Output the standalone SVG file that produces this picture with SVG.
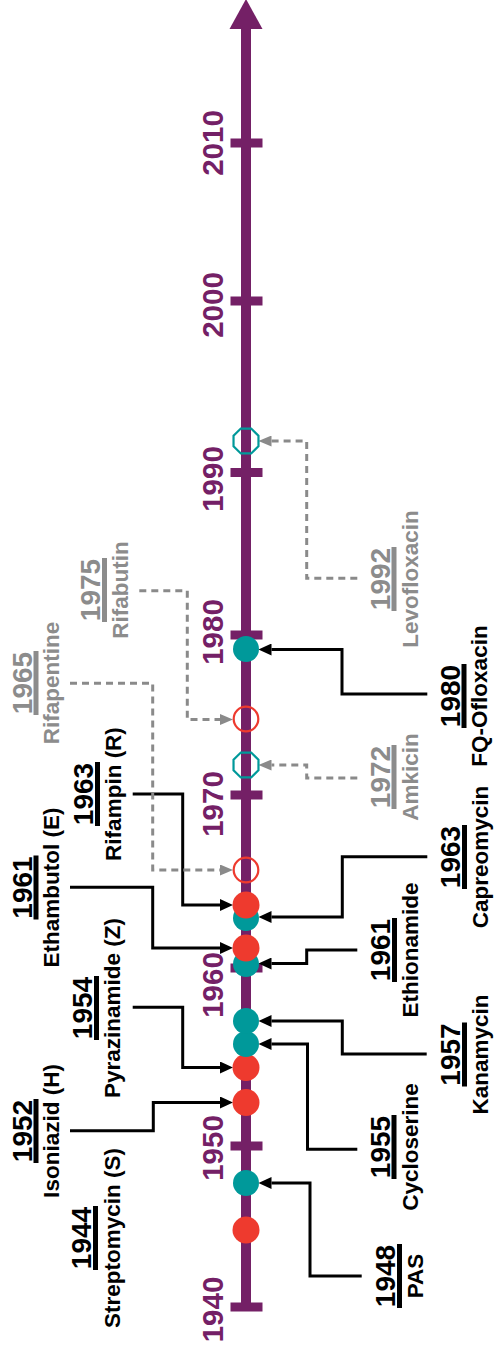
<svg xmlns="http://www.w3.org/2000/svg" width="497" height="1348" viewBox="0 0 497 1348">
  <style>
    .ax { fill: #742066; }
    .yr { font-family: "Liberation Sans", Arial, sans-serif; font-weight: bold; font-size: 29.5px; fill: #742066; text-anchor: middle; }
    .ly { font-family: "Liberation Sans", Arial, sans-serif; font-weight: bold; font-size: 28px; text-anchor: middle; }
    .ln { font-family: "Liberation Sans", Arial, sans-serif; font-weight: bold; font-size: 22.5px; text-anchor: middle; }
    .k { fill: #000; }
    .g { fill: #8c8c8c; }
    .c { fill: none; stroke: #000; stroke-width: 3; }
    .cd { fill: none; stroke: #8a8a8a; stroke-width: 3; stroke-dasharray: 7 5; }
    .red { fill: #ee3a2e; }
    .teal { fill: #00999a; }
    .ored { fill: none; stroke: #ee3a2e; stroke-width: 2.2; }
    .oteal { fill: none; stroke: #00999a; stroke-width: 2.2; }
  </style>
  <defs>
    <marker id="ah" viewBox="0 0 13 12" refX="0" refY="6" markerWidth="13" markerHeight="12" markerUnits="userSpaceOnUse" orient="auto">
      <path d="M0,0 L13,6 L0,12 z" fill="#000"/>
    </marker>
    <marker id="ahg" viewBox="0 0 13 11" refX="0" refY="5.5" markerWidth="13" markerHeight="11" markerUnits="userSpaceOnUse" orient="auto">
      <path d="M0,0 L13,5.5 L0,11 z" fill="#8a8a8a"/>
    </marker>
    <polygon id="oct" points="12.47,5.17 5.17,12.47 -5.17,12.47 -12.47,5.17 -12.47,-5.17 -5.17,-12.47 5.17,-12.47 12.47,-5.17"/>
  </defs>

  <!-- time axis -->
  <g id="axis">
    <rect class="ax" x="241" y="27" width="10" height="1281"/>
    <polygon class="ax" points="246,-1 229.5,29 262.5,29"/>
    <rect class="ax" x="230.5" y="138.5" width="32" height="9"/>
    <rect class="ax" x="230.5" y="296.5" width="32" height="9"/>
    <rect class="ax" x="230.5" y="468" width="32" height="9"/>
    <rect class="ax" x="230.5" y="630.5" width="32" height="9"/>
    <rect class="ax" x="230.5" y="790.5" width="32" height="9"/>
    <rect class="ax" x="230.5" y="963.5" width="32" height="9"/>
    <rect class="ax" x="230.5" y="1141.5" width="32" height="9"/>
    <rect class="ax" x="230.5" y="1302.5" width="32" height="9"/>
    <text class="yr" transform="translate(223,143) rotate(-90)">2010</text>
    <text class="yr" transform="translate(223,305) rotate(-90)">2000</text>
    <text class="yr" transform="translate(223,479) rotate(-90)">1990</text>
    <text class="yr" transform="translate(223,632) rotate(-90)">1980</text>
    <text class="yr" transform="translate(223,804) rotate(-90)">1970</text>
    <text class="yr" transform="translate(223,985) rotate(-90)">1960</text>
    <text class="yr" transform="translate(223,1148) rotate(-90)">1950</text>
    <text class="yr" transform="translate(223,1309.5) rotate(-90)">1940</text>
  </g>

  <!-- connectors from labels to the axis -->
  <g id="connectors">
    <path class="c" marker-end="url(#ah)" d="M70,1130.7 H153.3 V1102.5 H220"/>
    <path class="c" marker-end="url(#ah)" d="M132.7,1007.3 H182.7 V1067.5 H220"/>
    <path class="c" marker-end="url(#ah)" d="M70,887.3 H152.7 V948 H220"/>
    <path class="c" marker-end="url(#ah)" d="M132.7,794 H182.7 V905 H220"/>
    <path class="cd" marker-end="url(#ahg)" d="M70,683.3 H152.7 V870 H220"/>
    <path class="cd" marker-end="url(#ahg)" d="M139.3,590.7 H187.3 V719.5 H220"/>
    <path class="c" marker-end="url(#ah)" d="M361.7,1276 H310 V1183 H271.5"/>
    <path class="c" marker-end="url(#ah)" d="M357.3,1149.3 H307.5 V1044 H271.5"/>
    <path class="c" marker-end="url(#ah)" d="M426.7,1054 H342.3 V1021 H271.5"/>
    <path class="c" marker-end="url(#ah)" d="M357.3,950 H306.7 V963.5 H271.5"/>
    <path class="c" marker-end="url(#ah)" d="M427.3,856.7 H342.3 V917 H271.5"/>
    <path class="cd" marker-end="url(#ahg)" d="M357.3,778 H306.7 V765 H271.5"/>
    <path class="c" marker-end="url(#ah)" d="M427.3,694 H342 V649.5 H271.5"/>
    <path class="cd" marker-end="url(#ahg)" d="M357.3,578.3 H306.7 V441 H271.5"/>
  </g>

  <!-- drugs: marker on the axis plus rotated label -->
  <g id="streptomycin">
    <circle class="red" cx="246" cy="1230" r="13.5"/>
    <g class="k" transform="translate(91,1238) rotate(-90)">
      <text class="ly">1944</text>
      <rect x="-32" y="2" width="64" height="5"/>
      <text class="ln" y="29">Streptomycin (S)</text>
    </g>
  </g>
  <g id="pas">
    <circle class="teal" cx="246" cy="1183" r="13"/>
    <g class="k" transform="translate(395,1276) rotate(-90)">
      <text class="ly">1948</text>
      <rect x="-32" y="2" width="64" height="5"/>
      <text class="ln" y="27.5">PAS</text>
    </g>
  </g>
  <g id="isoniazid">
    <circle class="red" cx="246" cy="1102.5" r="13.5"/>
    <g class="k" transform="translate(32,1131) rotate(-90)">
      <text class="ly">1952</text>
      <rect x="-32" y="1.5" width="64" height="5"/>
      <text class="ln" y="27">Isoniazid (H)</text>
    </g>
  </g>
  <g id="pyrazinamide">
    <circle class="red" cx="246" cy="1067.5" r="13.5"/>
    <g class="k" transform="translate(92,1008) rotate(-90)">
      <text class="ly">1954</text>
      <rect x="-32" y="2" width="64" height="5"/>
      <text class="ln" y="28">Pyrazinamide (Z)</text>
    </g>
  </g>
  <g id="cycloserine">
    <circle class="teal" cx="246" cy="1044" r="13"/>
    <g class="k" transform="translate(389.5,1147) rotate(-90)">
      <text class="ly">1955</text>
      <rect x="-32" y="2" width="64" height="5"/>
      <text class="ln" y="28.5">Cycloserine</text>
    </g>
  </g>
  <g id="kanamycin">
    <circle class="teal" cx="246" cy="1021" r="13"/>
    <g class="k" transform="translate(460,1054.5) rotate(-90)">
      <text class="ly">1957</text>
      <rect x="-32" y="2" width="64" height="5"/>
      <text class="ln" y="27.5">Kanamycin</text>
    </g>
  </g>
  <g id="ethionamide">
    <circle class="teal" cx="246" cy="964" r="13"/>
    <g class="k" transform="translate(390,950) rotate(-90)">
      <text class="ly">1961</text>
      <rect x="-32" y="2" width="64" height="5"/>
      <text class="ln" y="28">Ethionamide</text>
    </g>
  </g>
  <g id="ethambutol">
    <circle class="red" cx="246" cy="948" r="13.5"/>
    <g class="k" transform="translate(32,887.5) rotate(-90)">
      <text class="ly">1961</text>
      <rect x="-32" y="1.5" width="64" height="5"/>
      <text class="ln" y="27">Ethambutol (E)</text>
    </g>
  </g>
  <g id="capreomycin">
    <circle class="teal" cx="246" cy="918" r="13"/>
    <g class="k" transform="translate(460,857) rotate(-90)">
      <text class="ly">1963</text>
      <rect x="-32" y="2" width="64" height="5"/>
      <text class="ln" y="27.5">Capreomycin</text>
    </g>
  </g>
  <g id="rifampin">
    <circle class="red" cx="246" cy="905" r="13.5"/>
    <g class="k" transform="translate(93,794) rotate(-90)">
      <text class="ly">1963</text>
      <rect x="-32" y="2" width="64" height="5"/>
      <text class="ln" y="27.5">Rifampin (R)</text>
    </g>
  </g>
  <g id="rifapentine">
    <circle class="ored" cx="246" cy="870" r="12.3"/>
    <g class="g" transform="translate(32,683) rotate(-90)">
      <text class="ly">1965</text>
      <rect x="-32" y="1.5" width="64" height="5"/>
      <text class="ln" y="27">Rifapentine</text>
    </g>
  </g>
  <g id="amkicin">
    <use class="oteal" href="#oct" x="246" y="765"/>
    <g class="g" transform="translate(389.5,777) rotate(-90)">
      <text class="ly">1972</text>
      <rect x="-32" y="2" width="64" height="5"/>
      <text class="ln" y="28">Amkicin</text>
    </g>
  </g>
  <g id="rifabutin">
    <circle class="ored" cx="246" cy="719" r="12.3"/>
    <g class="g" transform="translate(100,590) rotate(-90)">
      <text class="ly">1975</text>
      <rect x="-32" y="2" width="64" height="5"/>
      <text class="ln" y="28">Rifabutin</text>
    </g>
  </g>
  <g id="ofloxacin">
    <circle class="teal" cx="246" cy="649" r="13"/>
    <g class="k" transform="translate(459.5,696) rotate(-90)">
      <text class="ly">1980</text>
      <rect x="-32" y="2" width="64" height="5"/>
      <text class="ln" y="27.5">FQ-Ofloxacin</text>
    </g>
  </g>
  <g id="levofloxacin">
    <use class="oteal" href="#oct" x="246" y="441"/>
    <g class="g" transform="translate(389.5,579) rotate(-90)">
      <text class="ly">1992</text>
      <rect x="-32" y="2" width="64" height="5"/>
      <text class="ln" y="28">Levofloxacin</text>
    </g>
  </g>
</svg>
